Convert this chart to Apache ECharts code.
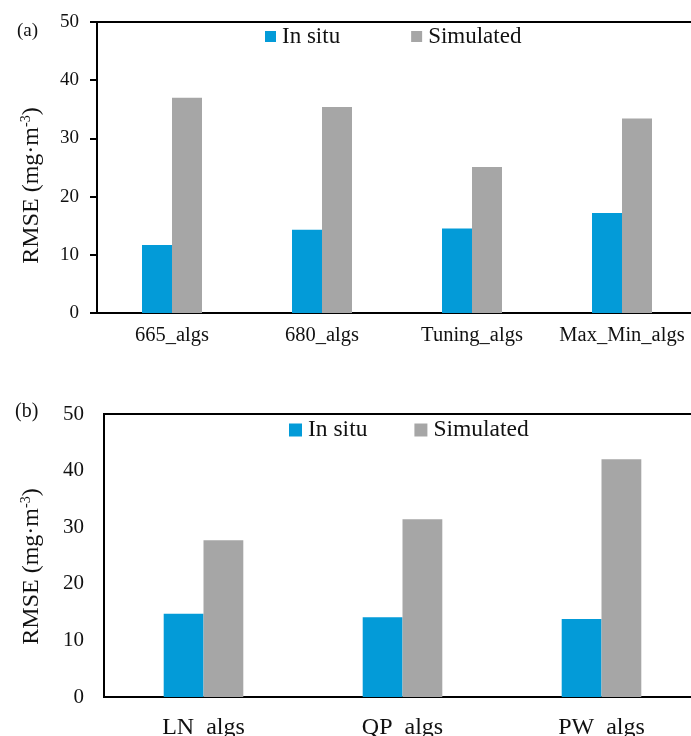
<!DOCTYPE html>
<html>
<head>
<meta charset="utf-8">
<script src="https://cdn.jsdelivr.net/npm/echarts@6/dist/echarts.min.js"></script>
<style>
html,body{margin:0;padding:0;background:#fff;overflow:hidden;}
#c{width:710px;height:736px;}
</style>
</head>
<body>
<div id="c"></div>
<script>
// Panel (a)
var catsA = ['665_algs', '680_algs', 'Tuning_algs', 'Max_Min_algs'];
var inSituA = [11.7, 14.3, 14.5, 17.2];
var simulatedA = [37.0, 35.4, 25.1, 33.4];
// Panel (b)
var catsB = ['LN_algs', 'QP_algs', 'PW_algs'];
var inSituB = [14.7, 14.1, 13.8];
var simulatedB = [27.7, 31.4, 42.0];
var yTicks = [0, 10, 20, 30, 40, 50];
var seriesNames = ['In situ', 'Simulated'];

var BLUE = '#039BD8', GRAY = '#A6A6A6';
var FONT = '"Liberation Serif", "Times New Roman", serif';

var chart = echarts.init(document.getElementById('c'), null, {renderer: 'canvas'});

function yAxis(gi, fs, margin, ticks, nameFs, nameGap, shift) {
  return {
    type: 'value', gridIndex: gi, min: yTicks[0], max: yTicks[yTicks.length - 1], interval: 10,
    axisLine: {show: true, lineStyle: {color: '#000', width: 2}},
    axisTick: {show: ticks, length: 7, inside: false, lineStyle: {color: '#000', width: 2}},
    splitLine: {show: false},
    axisLabel: {fontFamily: FONT, fontSize: fs, color: '#111', margin: margin},
    name: '{a|RMSE (mg·m}{s|-3}{a|)}',
    nameLocation: 'middle', nameRotate: 90, nameGap: nameGap,
    nameTextStyle: {
      fontFamily: FONT, color: '#111', padding: [0, shift, 0, 0],
      rich: {
        a: {fontFamily: FONT, fontSize: nameFs, color: '#111', lineHeight: nameFs + 2},
        s: {fontFamily: FONT, fontSize: Math.round(nameFs * 0.58), color: '#111', verticalAlign: 'top', lineHeight: nameFs + 2}
      }
    }
  };
}

function xAxis(gi, cats, fs, margin) {
  return {
    type: 'category', gridIndex: gi, data: cats,
    axisLine: {show: true, lineStyle: {color: '#000', width: 2}},
    axisTick: {show: false},
    axisLabel: {fontFamily: FONT, fontSize: fs, color: '#111', margin: margin, interval: 0}
  };
}

chart.setOption({
  animation: false,
  backgroundColor: '#fff',
  title: [
    {text: '(a)', left: 12, top: 17, textStyle: {fontFamily: FONT, fontSize: 19, fontWeight: 'normal', color: '#111'}},
    {text: '(b)', left: 10, top: 397, textStyle: {fontFamily: FONT, fontSize: 20, fontWeight: 'normal', color: '#111'}}
  ],
  legend: [
    {data: seriesNames, left: 260, top: 20, itemWidth: 11, itemHeight: 11, itemGap: 71, icon: 'rect',
     textStyle: {fontFamily: FONT, fontSize: 23, color: '#111', padding: [0, 0, 0, 1]}},
    {data: seriesNames, left: 284, top: 413, itemWidth: 13, itemHeight: 13, itemGap: 47, icon: 'rect',
     textStyle: {fontFamily: FONT, fontSize: 23.5, color: '#111', padding: [0, 0, 0, 1]}}
  ],
  grid: [
    {left: 97, top: 22, width: 600, height: 291, containLabel: false, outerBoundsMode: 'none',
     show: true, borderColor: '#000', borderWidth: 2, backgroundColor: 'transparent'},
    {left: 104, top: 414, width: 597, height: 283, containLabel: false, outerBoundsMode: 'none',
     show: true, borderColor: '#000', borderWidth: 2, backgroundColor: 'transparent'}
  ],
  xAxis: [xAxis(0, catsA, 20.5, 12), xAxis(1, catsB, 24, 19)],
  yAxis: [yAxis(0, 19, 18, true, 24, 52, 36), yAxis(1, 21, 20, false, 24, 59, 22)],
  series: [
    {name: seriesNames[0], type: 'bar', xAxisIndex: 0, yAxisIndex: 0, data: inSituA, barWidth: '20%', barGap: '0%', itemStyle: {color: BLUE}},
    {name: seriesNames[1], type: 'bar', xAxisIndex: 0, yAxisIndex: 0, data: simulatedA, barWidth: '20%', barGap: '0%', itemStyle: {color: GRAY}},
    {name: seriesNames[0], type: 'bar', xAxisIndex: 1, yAxisIndex: 1, data: inSituB, barWidth: '20%', barGap: '0%', itemStyle: {color: BLUE}},
    {name: seriesNames[1], type: 'bar', xAxisIndex: 1, yAxisIndex: 1, data: simulatedB, barWidth: '20%', barGap: '0%', itemStyle: {color: GRAY}}
  ]
});
</script>
</body>
</html>
